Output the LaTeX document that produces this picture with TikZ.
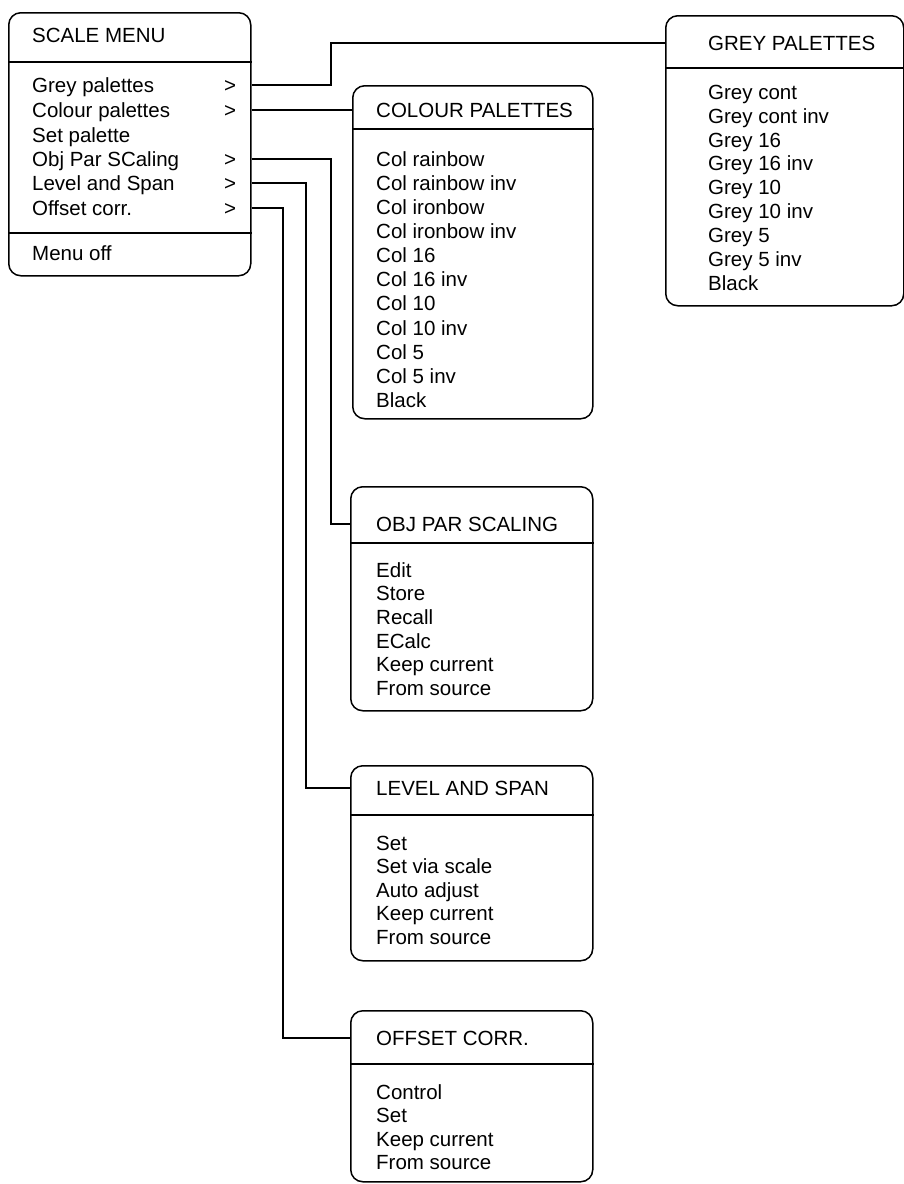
\documentclass[tikz,border=0pt]{standalone}
\usepackage{fontspec}
\setmainfont{Liberation Sans}
\tikzset{
  menubox/.style={draw, line width=1.5pt, rounded corners=12pt, anchor=north west, inner sep=0pt},
  txt/.style={anchor=west, inner sep=0pt, text height=14.7pt, text depth=0pt, font=\fontsize{20.5}{24}\selectfont},
  sepline/.style={line width=1.5pt},
  conn/.style={line width=1.5pt},
}
\begin{document}
\begin{tikzpicture}[x=1pt,y=-1pt]
\useasboundingbox (0,0) rectangle (904,1184);

% ---------------- SCALE MENU ----------------
\node[menubox, minimum width=242pt, minimum height=263pt] (scale) at (8,12) {};
\node[txt] (tScale) at (32,35) {SCALE MENU};
\draw[sepline] (scale.west |- 0,62) -- (scale.east |- 0,62);
\node[txt] (sGrey) at (32,85) {Grey palettes};
\node[txt] (aGrey) at (224,85) {>};
\node[txt] (sCol) at (32,110) {Colour palettes};
\node[txt] (aCol) at (224,110) {>};
\node[txt] (sSet) at (32,135) {Set palette};
\node[txt] (sObj) at (32,159) {Obj Par SCaling};
\node[txt] (aObj) at (224,159) {>};
\node[txt] (sLev) at (32,183) {Level and Span};
\node[txt] (aLev) at (224,183) {>};
\node[txt] (sOff) at (32,208) {Offset corr.};
\node[txt] (aOff) at (224,208) {>};
\draw[sepline] (scale.west |- 0,233) -- (scale.east |- 0,233);
\node[txt] (sMenu) at (32,253) {Menu off};

% ---------------- GREY PALETTES ----------------
\node[menubox, minimum width=238pt, minimum height=290pt] (grey) at (665,15) {};
\node[txt] (tGrey) at (708,43) {GREY PALETTES};
\draw[sepline] (grey.west |- 0,68) -- (grey.east |- 0,68);
\foreach \t [count=\i from 0] in {Grey cont,Grey cont inv,Grey 16,Grey 16 inv,Grey 10,Grey 10 inv,Grey 5,Grey 5 inv,Black}
  \node[txt] (g\i) at (708,{92+\i*23.875}) {\t};

% ---------------- COLOUR PALETTES ----------------
\node[menubox, minimum width=240pt, minimum height=333pt] (colour) at (352,85) {};
\node[txt] (tCol) at (376,110) {COLOUR PALETTES};
\draw[sepline] (colour.west |- 0,129) -- (colour.east |- 0,129);
\foreach \t [count=\i from 0] in {Col rainbow,Col rainbow inv,Col ironbow,Col ironbow inv,Col 16,Col 16 inv,Col 10,Col 10 inv,Col 5,Col 5 inv,Black}
  \node[txt] (c\i) at (376,{159+\i*24.1}) {\t};

% ---------------- OBJ PAR SCALING ----------------
\node[menubox, minimum width=242pt, minimum height=224pt] (obj) at (350,486) {};
\node[txt] (tObj) at (376,524) {OBJ PAR SCALING};
\draw[sepline] (obj.west |- 0,543) -- (obj.east |- 0,543);
\foreach \t [count=\i from 0] in {Edit,Store,Recall,ECalc,Keep current,From source}
  \node[txt] (o\i) at (376,{570+\i*23.6}) {\t};

% ---------------- LEVEL AND SPAN ----------------
\node[menubox, minimum width=242pt, minimum height=195pt] (level) at (350,765) {};
\node[txt] (tLev) at (376,788) {LEVEL AND SPAN};
\draw[sepline] (level.west |- 0,815) -- (level.east |- 0,815);
\foreach \t [count=\i from 0] in {Set,Set via scale,Auto adjust,Keep current,From source}
  \node[txt] (l\i) at (376,{843+\i*23.5}) {\t};

% ---------------- OFFSET CORR. ----------------
\node[menubox, minimum width=242pt, minimum height=171pt] (offset) at (350,1010) {};
\node[txt] (tOff) at (376,1038) {OFFSET CORR.};
\draw[sepline] (offset.west |- 0,1064) -- (offset.east |- 0,1064);
\foreach \t [count=\i from 0] in {Control,Set,Keep current,From source}
  \node[txt] (f\i) at (376,{1092+\i*23.4}) {\t};

% ---------------- connectors ----------------
\coordinate (jGrey) at (331,85);
\coordinate (jObj) at (331,159);
\coordinate (jLev) at (306,183);
\coordinate (jOff) at (283,208);
\draw[conn] (scale.east |- aGrey) -- (jGrey) |- (grey.west |- tGrey);
\draw[conn] (scale.east |- aCol) -- (colour.west |- aCol);
\draw[conn] (scale.east |- aObj) -- (jObj) |- (obj.west |- tObj);
\draw[conn] (scale.east |- aLev) -- (jLev) |- (level.west |- tLev);
\draw[conn] (scale.east |- aOff) -- (jOff) |- (offset.west |- tOff);
\end{tikzpicture}
\end{document}
